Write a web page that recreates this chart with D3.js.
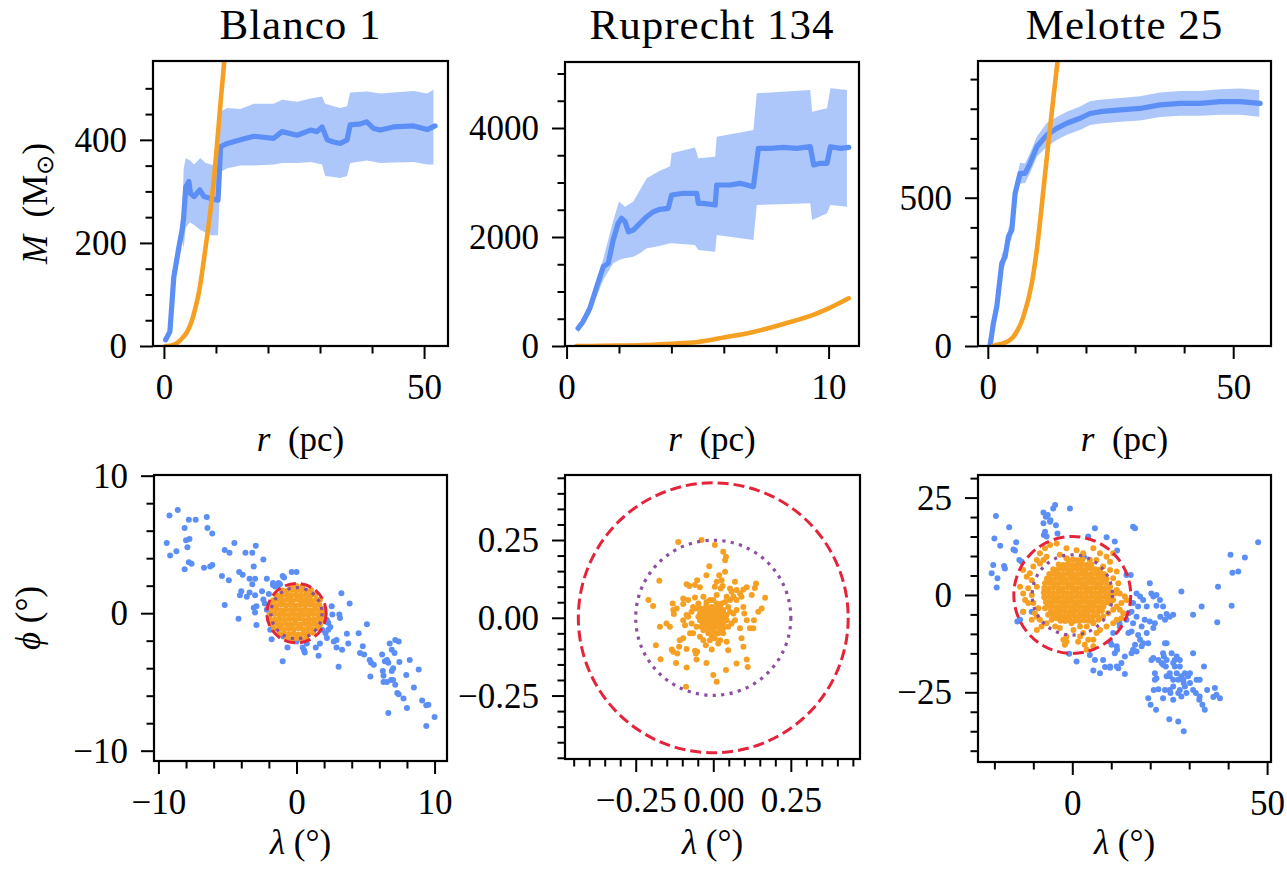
<!DOCTYPE html>
<html>
<head>
<meta charset="utf-8">
<script src="https://cdn.jsdelivr.net/npm/d3@7"></script>
<style>
  body { margin: 0; background: #fff; }
  svg { display: block; }
  text { font-family: "Liberation Serif", "Times New Roman", serif; fill: #000; }
</style>
</head>
<body>
<svg id="fig" width="1287" height="871"></svg>
<script>
// ---------- cluster names ----------
const titles = ["Blanco 1", "Ruprecht 134", "Melotte 25"];

// ---------- enclosed mass profiles M(r) ----------
const blancoR = [0.33,1.15,1.9,2.9,3.5,3.8,4.2,4.8,5.1,5.8,6.9,7.7,9.0,10.4,10.9,12.2,14.7,17.3,21.1,22.7,25.6,28.2,29.4,30.4,31.4,32.6,33.9,35.2,35.8,37.8,39.0,40.3,41.6,44.1,48.0,50.6,52.1];
const blancoM = [12,28,134,193,225,251,309,319,296,290,303,290,286,283,387,393,400,407,403,416,409,419,416,425,400,396,393,400,429,431,435,422,419,425,427,420,427];
const blancoBandR  = [0.33,1.15,1.9,2.9,3.5,3.8,4.2,5.0,5.8,7.0,8.0,9.0,10.4,10.9,12.2,14.7,17.3,21.1,22.7,25.6,28.2,30.4,31.0,32.6,33.9,35.2,35.8,39.0,41.6,44.1,48.0,50.6,51.8];
const blancoBandLo = [8,20,120,180,205,190,230,240,235,225,220,215,215,338,345,350,350,352,355,355,357,352,330,328,326,330,355,360,355,356,357,352,352];
const blancoBandHi = [16,36,148,208,250,345,365,360,352,365,355,352,350,455,462,460,470,470,478,474,480,484,470,465,462,465,492,494,490,492,495,490,497];
const blancoModelR = [0.3,0.6,1.5,2.57,3.5,4.49,5.3,6.08,6.8,7.37,8.33,9.29,10.1,10.9,11.65,12.3];
const blancoModelM = [0,0,1,6,15,28,47,75,108,145,215,293,378,474,560,655];

const ruprechtR = [0.44,0.63,0.89,1.15,1.4,1.59,1.78,1.97,2.1,2.23,2.36,2.55,2.8,3.06,3.31,3.57,3.88,4.01,4.46,4.97,5.03,5.22,5.67,5.73,6.24,6.62,6.88,7.13,7.32,7.77,8.28,8.79,9.3,9.43,9.68,9.94,10.07,10.45,10.77];
const ruprechtM = [325,446,692,1088,1455,1517,1945,2251,2343,2281,2097,2128,2251,2372,2464,2508,2526,2771,2802,2802,2618,2618,2587,2954,2954,2985,2954,2923,3627,3627,3645,3627,3657,3321,3352,3352,3657,3627,3645];
const ruprechtBandR  = [0.44,0.89,1.4,1.78,2.0,2.23,2.55,2.8,3.06,3.5,3.95,4.01,4.9,5.03,5.67,5.73,7.13,7.26,9.3,9.37,9.94,10.07,10.7];
const ruprechtBandLo = [233,600,1211,1517,1580,1609,1639,1700,1792,1830,1884,1884,1853,1761,1730,2037,1945,2587,2618,2312,2434,2587,2556];
const ruprechtBandHi = [380,760,1600,2300,2650,2556,2650,2862,3077,3200,3300,3535,3640,3444,3474,3840,3963,4637,4697,4300,4361,4728,4697];
const ruprechtModelR = [0.38,1,2,3,4,4.46,5,6.1,7,8.28,9.56,10,10.77];
const ruprechtModelM = [0,1,6,18,40,55,75,165,245,405,600,690,875];

const melotteR = [0.47,1.14,1.83,2.85,3.52,4.2,4.89,5.56,6.58,7.6,8.6,10,12,14.05,16.1,18.8,20.8,22.9,27,31,35.1,39.2,43.2,47.3,51.4,55.5];
const melotteM = [3,77,133,279,301,369,391,515,582,582,616,672,711,734,751,768,784,790,796,801,813,818,818,824,824,818];
const melotteBandR  = [0.47,1.14,1.83,2.85,3.52,4.2,4.89,5.56,6.58,7.6,8.6,10,12,14.05,16.1,18.8,20.8,22.9,27,31,35.1,39.2,43.2,47.3,51.4,55.3];
const melotteBandLo = [0,65,118,250,275,340,362,485,548,550,583,638,672,695,712,728,745,750,756,760,772,776,776,780,780,773];
const melotteBandHi = [8,90,150,310,328,398,420,548,618,615,650,706,752,772,790,808,825,830,836,842,855,860,860,866,868,863];
const melotteModelR = [1.0,1.49,3,5.2,7.25,8.96,9.98,11.47,12.55,13.7,14.2,14.6];
const melotteModelM = [0,3,8,31,99,211,324,549,717,886,959,1020];

// ---------- sky positions (lambda, phi) in degrees ----------
const blancoField = [
 [-9.2,7.1],[-8.6,7.5],[-9.4,5.1],[-9.15,4.2],[-8.7,4.5],[-8.1,6.2],[-7.8,6.8],[-7.3,6.8],[-6.5,7.0],[-6.45,6.2],
 [-6.1,5.8],[-8.0,5.3],[-7.75,5.4],[-7.9,4.8],[-8.1,3.2],[-7.8,3.7],[-7.6,3.6],[-6.7,3.3],[-6.25,3.4],[-6.1,3.5],
 [-5.4,2.7],[-5.2,4.6],[-4.85,4.4],[-4.5,5.1],[-4.9,2.4],[-5.2,0.6],[-4.15,3.0],[-3.9,2.8],[-4.2,-0.4],[-4.1,1.3],
 [-4.0,1.6],[-3.7,4.4],[-3.2,4.4],[-2.95,4.9],[-3.1,3.4],[-2.4,3.9],[-3.6,1.2],[-3.4,2.5],[-3.0,2.5],[-3.2,2.1],
 [-3.4,1.5],[-3.0,1.3],[-2.9,0.5],[-3.0,0.05],[-3.1,0.4],[-2.9,-0.85],[-2.5,1.6],[-2.4,1.0],[-2.15,2.5],[-2.0,1.4],
 [-2.3,0.7],[-2.15,0.25],[-1.7,2.2],[-1.4,2.0],[-1.2,2.1],[-1.0,2.7],[-0.9,2.6],[-0.35,3.0],[0.0,3.0],[-1.9,-1.2],
 [-1.8,-1.9],[-1.0,-3.5],[-0.65,-2.5],[0.45,-2.5],[0.55,-2.7],[0.6,-2.85],[0.75,-2.2],[1.4,-2.5],[1.6,-3.1],[1.7,-2.2],
 [2.2,-1.8],[2.3,-1.2],[2.45,-1.0],[2.55,0.5],[2.6,-0.1],[2.2,-0.5],[2.3,-0.7],[2.7,-2.05],[2.9,-1.95],[3.05,-3.9],
 [2.9,-2.5],[3.3,-2.65],[3.25,1.45],[3.85,0.7],[3.1,-0.1],[3.15,-0.35],[3.65,-1.5],[3.75,-2.2],[4.5,-1.45],[4.6,-2.9],
 [4.8,-2.4],[4.9,-3.0],[5.1,-0.8],[5.3,-3.4],[5.4,-3.6],[5.6,-3.75],[5.35,-4.6],[6.2,-3.0],[6.4,-3.5],[6.65,-3.6],
 [6.55,-3.4],[6.75,-2.2],[6.9,-2.65],[7.15,-1.95],[7.4,-2.05],[7.1,-2.9],[7.0,-4.0],[6.9,-4.2],[7.0,-4.85],[7.15,-5.2],
 [6.55,-5.0],[6.25,-4.2],[6.3,-4.55],[6.3,-5.0],[6.85,-4.85],[7.3,-5.8],[7.4,-5.9],[7.75,-6.2],[8.0,-6.9],[6.65,-7.25],
 [7.95,-4.5],[8.2,-3.4],[8.85,-4.1],[8.5,-5.4],[9.1,-6.35],[9.4,-6.7],[9.55,-6.65],[9.4,-8.2],[10.0,-7.55],[7.45,-3.55],
 [-1.3,2.2],[-1.55,1.95],[-1.7,2.05],[2.1,-0.5],[1.9,-0.25],[1.85,-1.2],[2.1,-1.45],[0.0,-2.05],[-0.95,-1.7],[-2.0,-0.25]
];
const blancoMembers = [
 [-0.7,-1.85],[-0.35,-1.9],[0.0,-1.8],[0.35,-1.88],[0.7,-1.82],
 [-1.25,-1.5],[-0.9,-1.45],[-0.55,-1.52],[-0.2,-1.48],[0.15,-1.55],[0.5,-1.47],[0.85,-1.5],[1.2,-1.43],
 [-1.6,-1.15],[-1.25,-1.1],[-0.9,-1.18],[-0.55,-1.12],[-0.2,-1.16],[0.15,-1.1],[0.5,-1.2],[0.85,-1.13],[1.2,-1.17],[1.55,-1.1],
 [-1.8,-0.8],[-1.45,-0.75],[-1.1,-0.83],[-0.75,-0.78],[-0.4,-0.82],[-0.05,-0.77],[0.3,-0.84],[0.65,-0.79],[1.0,-0.81],[1.35,-0.76],[1.7,-0.83],
 [-1.9,-0.45],[-1.55,-0.48],[-1.2,-0.42],[-0.85,-0.47],[-0.5,-0.43],[-0.15,-0.46],[0.2,-0.41],[0.55,-0.49],[0.9,-0.44],[1.25,-0.46],[1.6,-0.42],[1.9,-0.47],
 [-1.95,-0.1],[-1.6,-0.06],[-1.25,-0.12],[-0.9,-0.08],[-0.55,-0.13],[-0.2,-0.07],[0.15,-0.11],[0.5,-0.09],[0.85,-0.12],[1.2,-0.06],[1.55,-0.1],[1.9,-0.08],
 [-1.8,0.25],[-1.45,0.29],[-1.1,0.22],[-0.75,0.27],[-0.4,0.23],[-0.05,0.28],[0.3,0.24],[0.65,0.26],[1.0,0.21],[1.35,0.28],[1.7,0.24],[1.95,0.3],
 [-1.85,0.6],[-1.5,0.57],[-1.15,0.63],[-0.8,0.58],[-0.45,0.62],[-0.1,0.56],[0.25,0.61],[0.6,0.59],[0.95,0.64],[1.3,0.57],[1.65,0.61],
 [-1.7,0.95],[-1.35,0.98],[-1.0,0.92],[-0.65,0.97],[-0.3,0.93],[0.05,0.99],[0.4,0.94],[0.75,0.96],[1.1,0.91],[1.45,0.97],[1.7,1.0],
 [-1.45,1.3],[-1.1,1.26],[-0.75,1.33],[-0.4,1.28],[-0.05,1.32],[0.3,1.27],[0.65,1.31],[1.0,1.29],[1.35,1.34],
 [-1.05,1.65],[-0.7,1.62],[-0.35,1.68],[0.0,1.63],[0.35,1.67],[0.7,1.61],[1.05,1.66],
 [-0.4,1.95],[0.0,1.98],[0.4,1.93]
];

const ruprechtField = [];
const ruprechtMembers = [
 [-0.113,0.244],[-0.038,0.250],[0.005,0.234],[0.032,0.212],[0.041,0.196],[0.038,0.185],[-0.013,0.166],[-0.022,0.137],
 [-0.052,0.121],[-0.043,0.098],[-0.086,0.108],[-0.059,0.105],[-0.077,0.102],[0.019,0.137],[0.027,0.121],[0.038,0.148],
 [0.011,0.116],[0.005,0.100],[0.030,0.102],[0.024,0.094],[0.070,0.116],[0.108,0.098],[0.097,0.091],[0.138,0.110],
 [0.134,0.096],[0.124,0.073],[0.054,0.094],[0.059,0.084],[0.075,0.089],[0.086,0.078],[0.091,0.068],[0.065,0.068],
 [0.075,0.057],[0.054,0.057],[-0.174,0.119],[-0.209,0.057],[-0.194,0.038],[-0.172,-0.029],[-0.185,-0.088],[-0.151,-0.018],
 [-0.140,-0.029],[-0.170,-0.133],[-0.134,-0.102],[-0.129,-0.109],[-0.116,-0.115],[-0.120,-0.145],[-0.086,-0.160],[-0.054,-0.134],
 [-0.052,-0.109],[-0.059,-0.106],[-0.056,-0.115],[-0.086,-0.100],[-0.110,-0.093],[-0.108,-0.072],[-0.097,-0.066],[-0.075,-0.050],
 [-0.065,-0.050],[-0.070,-0.018],[-0.043,0.014],[-0.038,-0.029],[-0.024,-0.088],[-0.022,-0.145],[-0.005,-0.102],[0.000,-0.184],
 [0.011,-0.206],[0.016,-0.083],[0.022,-0.072],[0.032,-0.050],[0.043,-0.077],[0.048,-0.104],[0.041,-0.168],[0.075,-0.147],
 [0.108,-0.134],[0.111,-0.158],[0.097,-0.093],[0.086,-0.034],[0.091,-0.066],[0.118,-0.034],[0.129,-0.034],[0.131,-0.008],
 [0.108,-0.008],[0.156,0.030],[0.145,0.019],[0.167,0.064],[0.097,0.035],[0.100,0.014],[0.075,0.025],[-0.129,0.025],
 [-0.131,0.046],[-0.118,0.030],[-0.127,0.012],[-0.097,0.062],[-0.081,0.057],[-0.097,0.044],[-0.065,0.035],[-0.059,0.065],
 [-0.056,0.030],[-0.048,0.046],[-0.032,0.068],[-0.022,0.051],[-0.011,0.057],[0.000,0.057],[0.011,0.073],[0.043,0.068],
 [0.011,0.046],[0.022,0.035],[0.032,0.025],[0.048,0.035],[0.054,0.019],[0.065,0.014],[-0.070,0.019],[-0.086,0.009],
 [-0.097,-0.008],[-0.091,-0.024],[-0.081,0.003],[-0.054,-0.029],[-0.043,-0.008],[-0.032,0.003],[-0.027,0.030],[-0.016,0.025],
 [-0.005,0.035],[0.000,0.019],[0.005,0.030],[0.016,0.019],[0.027,0.009],[0.038,0.003],[0.043,-0.008],[0.032,-0.018],
 [0.016,-0.013],[0.011,-0.029],[0.000,-0.034],[-0.011,-0.029],[-0.022,-0.024],[-0.032,-0.040],[-0.016,-0.050],[-0.005,-0.056],
 [0.011,-0.050],[0.022,-0.040],[0.032,-0.034],[0.048,-0.029],[0.059,-0.018],[0.070,-0.008],[-0.043,-0.061],[-0.032,-0.072],
 [-0.011,-0.072],[0.005,-0.066],[-0.088,-0.222],
 [-0.032,0.019],[-0.022,0.014],[-0.011,0.009],[0.000,0.003],[0.011,-0.002],[0.022,0.003],[-0.016,-0.002],[-0.005,-0.008],
 [0.005,-0.018],[-0.027,-0.008],[-0.038,0.009],[0.011,0.014],[0.024,0.019],[0.034,0.014],[-0.013,0.019],[-0.002,0.012],
 [0.009,-0.010],[0.019,-0.024],[0.030,-0.005],[-0.024,0.003],[-0.034,-0.018],[-0.016,-0.034],[0.000,-0.018],[0.043,0.009],
 [-0.048,0.003],[-0.041,0.030],[-0.022,0.041],[0.011,0.030],[0.027,0.046],[0.038,0.051],[-0.011,-0.013],[0.000,-0.040],[0.016,-0.050]
];

const melotteField = [
 [-19.6,20.3],[-20.0,14.5],[-18.5,12.6],[-16.2,17.4],[-14.7,11.4],[-14.4,13.5],[-15.1,11.7],[-13.6,9.0],[-13.0,8.5],[-20.7,5.6],
 [-20.3,7.7],[-19.2,4.3],[-19.4,1.9],[-17.5,7.4],[-17.3,6.8],[-14.1,-6.8],[-13.4,-6.4],[-7.4,21.2],[-6.8,20.1],[-6.3,20.5],
 [-5.7,18.8],[-4.9,22.2],[-4.4,23.1],[-4.2,17.9],[-5.6,19.2],[-7.4,18.4],[-7.0,16.2],[-7.3,15.4],[-6.6,15.0],[-3.8,15.8],
 [-0.6,22.2],[5.8,17.1],[4.1,15.0],[8.8,14.8],[10.9,13.7],[11.5,11.4],[15.6,17.5],[16.1,17.1],[3.0,9.8],[13.9,5.1],
 [15.0,5.1],[14.4,-4.7],[15.6,-2.1],[16.5,0.4],[17.4,-0.4],[16.9,-3.0],[18.2,-1.3],[19.1,-3.0],[19.9,3.0],[20.3,0.4],
 [21.6,0.0],[20.8,-0.4],[22.5,-1.3],[21.6,-2.8],[23.3,-3.0],[24.2,-4.9],[22.6,-5.6],[23.8,-6.4],[25.0,-5.6],[25.9,-5.1],
 [28.0,0.9],[31.0,-5.1],[33.2,-3.0],[37.4,2.1],[37.2,-7.0],[40.6,10.3],[41.1,5.7],[42.6,6.0],[44.3,9.6],[40.9,-2.8],
 [47.7,13.5],[13.9,-6.4],[15.6,-7.3],[15.2,-9.4],[16.9,-10.3],[17.8,-8.1],[19.1,-9.8],[20.8,-8.5],[21.2,-7.3],[19.9,-6.8],
 [18.6,-6.4],[16.5,-5.6],[15.2,-4.3],[16.1,-12.8],[17.4,-11.5],[17.8,-13.2],[18.2,-12.4],[19.5,-12.4],[16.5,-14.5],[15.6,-14.1],
 [15.2,-15.0],[14.4,-9.8],[12.1,-7.3],[10.5,-9.8],[10.1,-12.8],[11.4,-13.2],[11.5,-14.1],[10.9,-15.0],[9.7,-12.0],[13.5,-15.8],
 [12.6,-17.5],[9.7,-18.4],[7.9,-16.7],[5.8,-16.7],[5.4,-19.4],[7.1,-20.1],[8.4,-18.5],[9.7,-18.7],[11.4,-18.4],[11.8,-18.8],
 [13.5,-20.3],[1.1,-17.1],[-0.8,-15.1],[4.5,-15.4],[12.2,-8.1],[20.3,-16.7],[20.8,-16.2],[22.1,-16.7],[21.2,-20.1],[21.6,-21.4],
 [23.3,-15.0],[23.8,-12.4],[24.2,-12.4],[23.5,-15.8],[22.9,-17.5],[23.3,-17.9],[24.0,-18.4],[25.5,-15.0],[25.9,-17.5],[26.3,-18.4],
 [26.8,-20.1],[25.9,-21.8],[25.0,-20.9],[26.3,-16.7],[26.8,-15.8],[28.0,-20.9],[28.5,-21.8],[28.9,-23.5],[27.6,-24.4],[27.2,-25.2],
 [28.0,-26.1],[25.9,-26.9],[25.2,-25.2],[25.0,-24.4],[24.2,-20.9],[23.8,-24.4],[23.3,-26.5],[22.1,-24.2],[21.2,-21.8],[20.9,-24.4],
 [19.5,-26.5],[20.1,-28.2],[21.5,-29.5],[24.9,-31.9],[27.2,-32.5],[28.6,-35.0],[29.3,-25.2],[28.9,-20.1],[29.7,-20.9],[30.2,-22.6],
 [31.0,-15.0],[33.8,-18.4],[31.7,-25.2],[32.7,-26.1],[33.4,-28.2],[34.0,-29.5],[32.6,-26.9],[36.2,-26.2],[36.6,-23.9],[37.0,-25.6],
 [37.9,-26.5],[34.6,-24.4],[31.0,-24.4],[25.9,-23.5],[27.2,-21.8],[28.6,-22.6],[27.6,-18.4],[24.2,-16.7],[25.0,-20.1],[27.6,-16.7],
 [30.2,-20.1],[31.9,-21.8],[32.7,-21.8],[-12.6,-4.3],[-10.4,-4.3]
];
const melotteMembers = [
 // outer members
 [-12.6,-4.3],[-11.3,1.7],[-10.4,0.0],[-10.0,-2.1],[-9.1,-5.6],[-8.3,-6.4],[-9.1,-9.0],[-7.9,-8.1],[-6.6,-7.3],[-4.9,-5.1],
 [-4.0,-6.0],[-2.7,-5.6],[-4.4,-8.1],[-3.2,-8.5],[-2.3,-11.5],[-1.9,-12.8],[-1.5,-12.0],[0.3,-9.0],[2.0,-10.7],[2.8,-9.8],
 [4.1,-11.5],[5.4,-11.5],[5.4,-13.2],[6.2,-9.8],[7.1,-9.0],[8.8,-8.1],[10.5,-7.3],[11.4,-6.4],[12.6,-6.0],[13.1,-4.7],
 [12.2,-3.8],[10.5,-1.3],[12.6,-2.1],[13.9,-1.3],[13.5,-0.4],[12.2,0.4],[11.8,3.0],[10.5,4.3],[11.4,6.0],[9.7,8.5],
 [10.5,10.7],[8.8,9.8],[7.1,10.7],[5.4,12.0],[4.5,9.0],[2.8,10.7],[1.1,11.5],[-1.5,12.0],[-4.0,13.2],[-5.7,12.8],
 [-7.0,12.0],[-8.3,10.7],[-9.1,9.0],[-10.0,7.3],[-10.9,5.6],[-12.6,6.4],[-11.7,4.7],[-10.4,3.8],[-9.1,2.1],[-7.4,9.0],
 [-6.6,9.8],[-3.2,10.3],[-1.5,9.4],[6.2,9.0],[7.9,7.3],[9.7,6.4],[-8.3,8.1],[-11.3,-2.1],[-8.7,-3.4],[-7.0,-3.4],
 [-6.2,-5.1],[-5.3,-6.4],[-1.5,-6.4],[-0.2,-7.3],[2.0,-8.1],[3.7,-8.1],[5.4,-7.3],[6.7,-6.4],[7.9,-5.6],[9.2,-4.7],
 [10.5,-3.8],[11.4,-3.0],[9.7,-2.1],[10.9,0.4],[9.7,2.1],[11.4,1.3],[-1.5,-10.7],[1.5,-12.0],[3.2,-12.8],[3.7,-14.1],
 [-12.6,0.4],[-13.4,2.1],[-12.1,-1.3],[-9.6,-4.7],[-10.4,-6.4],
 // dense core
 [-1.0,9.0],[0.2,9.1],[1.4,8.9],[2.6,9.1],
 [-3.5,7.8],[-2.3,7.7],[-1.1,7.9],[0.1,7.7],[1.3,7.8],[2.5,7.9],[3.7,7.7],[4.9,7.8],
 [-4.9,6.6],[-3.7,6.5],[-2.5,6.7],[-1.3,6.6],[-0.1,6.5],[1.1,6.7],[2.3,6.6],[3.5,6.5],[4.7,6.7],[5.9,6.6],[7.1,6.5],
 [-5.9,5.4],[-4.7,5.5],[-3.5,5.3],[-2.3,5.4],[-1.1,5.5],[0.1,5.3],[1.3,5.4],[2.5,5.5],[3.7,5.3],[4.9,5.4],[6.1,5.5],[7.3,5.3],[8.1,5.4],
 [-6.5,4.2],[-5.3,4.1],[-4.1,4.3],[-2.9,4.2],[-1.7,4.1],[-0.5,4.3],[0.7,4.2],[1.9,4.1],[3.1,4.3],[4.3,4.2],[5.5,4.1],[6.7,4.3],[7.9,4.2],[8.8,4.1],
 [-7.0,3.0],[-5.8,3.1],[-4.6,2.9],[-3.4,3.0],[-2.2,3.1],[-1.0,2.9],[0.2,3.0],[1.4,3.1],[2.6,2.9],[3.8,3.0],[5.0,3.1],[6.2,2.9],[7.4,3.0],[8.6,3.1],
 [-7.2,1.8],[-6.0,1.7],[-4.8,1.9],[-3.6,1.8],[-2.4,1.7],[-1.2,1.9],[0.0,1.8],[1.2,1.7],[2.4,1.9],[3.6,1.8],[4.8,1.7],[6.0,1.9],[7.2,1.8],[8.4,1.7],[9.4,1.9],
 [-7.3,0.6],[-6.1,0.7],[-4.9,0.5],[-3.7,0.6],[-2.5,0.7],[-1.3,0.5],[-0.1,0.6],[1.1,0.7],[2.3,0.5],[3.5,0.6],[4.7,0.7],[5.9,0.5],[7.1,0.6],[8.3,0.7],[9.5,0.5],
 [-7.2,-0.6],[-6.0,-0.5],[-4.8,-0.7],[-3.6,-0.6],[-2.4,-0.5],[-1.2,-0.7],[0.0,-0.6],[1.2,-0.5],[2.4,-0.7],[3.6,-0.6],[4.8,-0.5],[6.0,-0.7],[7.2,-0.6],[8.4,-0.5],[9.4,-0.7],
 [-6.8,-1.8],[-5.6,-1.9],[-4.4,-1.7],[-3.2,-1.8],[-2.0,-1.9],[-0.8,-1.7],[0.4,-1.8],[1.6,-1.9],[2.8,-1.7],[4.0,-1.8],[5.2,-1.9],[6.4,-1.7],[7.6,-1.8],[8.8,-1.9],
 [-6.4,-3.0],[-5.2,-2.9],[-4.0,-3.1],[-2.8,-3.0],[-1.6,-2.9],[-0.4,-3.1],[0.8,-3.0],[2.0,-2.9],[3.2,-3.1],[4.4,-3.0],[5.6,-2.9],[6.8,-3.1],[8.0,-3.0],
 [-5.5,-4.2],[-4.3,-4.3],[-3.1,-4.1],[-1.9,-4.2],[-0.7,-4.3],[0.5,-4.1],[1.7,-4.2],[2.9,-4.3],[4.1,-4.1],[5.3,-4.2],[6.5,-4.3],[7.6,-4.1],
 [-4.4,-5.4],[-3.2,-5.3],[-2.0,-5.5],[-0.8,-5.4],[0.4,-5.3],[1.6,-5.5],[2.8,-5.4],[4.0,-5.3],[5.2,-5.5],[6.4,-5.4],
 [-3.0,-6.6],[-1.8,-6.7],[-0.6,-6.5],[0.6,-6.6],[1.8,-6.7],[3.0,-6.5],[4.2,-6.6],[5.2,-6.7]
];

// selection radii (degrees): outer dashed and inner dotted circles
const outerRadius = [2.15, 0.435, 15];
const innerRadius = [1.85, 0.25, 10.3];

// ---------- axis domains and ticks ----------
const massXDomain = [[-2.1, 54.6], [-0.06, 11.16], [-2.0, 57.7]];
const massYDomain = [[0, 553], [0, 5211], [0, 961]];
const massXMajor = [[0, 50], [0, 10], [0, 50]];
const massXMinor = [[10, 20, 30, 40], [2, 4, 6, 8], [10, 20, 30, 40]];
const massYMajor = [[0, 200, 400], [0, 2000, 4000], [0, 500]];
const massYMinor = [[50,100,150,250,300,350,450,500], [500,1000,1500,2500,3000,3500,4500,5000], [100,200,300,400,600,700,800,900]];

const skyXDomain = [[-10.32, 10.9], [-0.478, 0.473], [-24.2, 51.0]];
const skyYDomain = [[-10.75, 10.05], [-0.454, 0.459], [-42.9, 30.8]];
const skyXMajor = [[-10, 0, 10], [-0.25, 0, 0.25], [0, 50]];
const skyXMinor = [[-8,-6,-4,-2,2,4,6,8], [-0.45,-0.4,-0.35,-0.3,-0.2,-0.15,-0.1,-0.05,0.05,0.1,0.15,0.2,0.3,0.35,0.4,0.45], [-20,-10,10,20,30,40]];
const skyYMajor = [[-10, 0, 10], [-0.25, 0, 0.25], [-25, 0, 25]];
const skyYMinor = [[-8,-6,-4,-2,2,4,6,8], [-0.45,-0.4,-0.35,-0.3,-0.2,-0.15,-0.1,-0.05,0.05,0.1,0.15,0.2,0.3,0.35,0.4,0.45], [-40,-35,-30,-20,-15,-10,-5,5,10,15,20,30]];

// ---------- styling ----------
const BLUE = "#5b8ff6", ORANGE = "#f6a023", RED = "#e3243b", PURPLE = "#8d4fa0";
const FONT = 35;
const DOT = 3.0;

const svg = d3.select("#fig");
const defs = svg.append("defs");

const topBoxes = [[153, 448, 61, 346], [565, 859, 62, 346], [978, 1271, 61, 346]];
const botBoxes = [[154, 447, 475, 761], [565, 860, 475, 759], [978, 1271, 475, 762]];

function drawAxes(g, x, y, w, h, xMaj, xMin, yMaj, yMin, fmt) {
  const xMinorAxis = g.append("g").attr("transform", `translate(0,${h})`)
    .call(d3.axisBottom(x).tickValues(xMin).tickSize(7.5).tickFormat(""));
  const xMajorAxis = g.append("g").attr("transform", `translate(0,${h})`)
    .call(d3.axisBottom(x).tickValues(xMaj).tickSize(13).tickPadding(15).tickFormat(fmt));
  const yMinorAxis = g.append("g")
    .call(d3.axisLeft(y).tickValues(yMin).tickSize(7.5).tickFormat(""));
  const yMajorAxis = g.append("g")
    .call(d3.axisLeft(y).tickValues(yMaj).tickSize(13).tickPadding(13).tickFormat(fmt));
  [xMinorAxis, xMajorAxis, yMinorAxis, yMajorAxis].forEach(a => {
    a.attr("font-family", null).attr("font-size", null);
    a.select(".domain").remove();
    a.selectAll(".tick line").attr("stroke", "#000").attr("stroke-width", 2);
    a.selectAll(".tick text").attr("font-size", FONT).attr("fill", "#000");
  });
  yMajorAxis.selectAll(".tick text").attr("dy", "0.33em");
  g.append("rect").attr("width", w).attr("height", h)
    .attr("fill", "none").attr("stroke", "#000").attr("stroke-width", 2.2);
}

function addLabel(parent, x, y, parts, rotate) {
  const t = parent.append("text")
    .attr("transform", `translate(${x},${y})` + (rotate ? " rotate(-90)" : ""))
    .attr("text-anchor", "middle").attr("font-size", FONT)
    .attr("xml:space", "preserve");
  parts.forEach(p => {
    const s = t.append("tspan").text(p.t);
    if (p.i) s.attr("font-style", "italic");
    if (p.sub) s.attr("font-size", 24).attr("baseline-shift", "-6");
  });
  return t;
}

// ---------- top row: enclosed mass ----------
const massData = [
  { r: blancoR, m: blancoM, br: blancoBandR, lo: blancoBandLo, hi: blancoBandHi, mr: blancoModelR, mm: blancoModelM },
  { r: ruprechtR, m: ruprechtM, br: ruprechtBandR, lo: ruprechtBandLo, hi: ruprechtBandHi, mr: ruprechtModelR, mm: ruprechtModelM },
  { r: melotteR, m: melotteM, br: melotteBandR, lo: melotteBandLo, hi: melotteBandHi, mr: melotteModelR, mm: melotteModelM }
];

massData.forEach((d, i) => {
  const [x0, x1, y0, y1] = topBoxes[i];
  const w = x1 - x0, h = y1 - y0;
  const g = svg.append("g").attr("transform", `translate(${x0},${y0})`);
  const x = d3.scaleLinear().domain(massXDomain[i]).range([0, w]);
  const y = d3.scaleLinear().domain(massYDomain[i]).range([h, 0]);

  defs.append("clipPath").attr("id", "clipM" + i)
    .append("rect").attr("width", w).attr("height", h);
  const plot = g.append("g").attr("clip-path", `url(#clipM${i})`);

  const band = d3.area()
    .x((_, k) => x(d.br[k])).y0((_, k) => y(d.lo[k])).y1((_, k) => y(d.hi[k]));
  plot.append("path").datum(d.br).attr("d", band)
    .attr("fill", BLUE).attr("fill-opacity", 0.5);

  const line = d3.line().x((_, k) => x(d.r[k])).y((_, k) => y(d.m[k]));
  plot.append("path").datum(d.r).attr("d", line)
    .attr("fill", "none").attr("stroke", BLUE).attr("stroke-width", 5.2)
    .attr("stroke-linejoin", "round").attr("stroke-linecap", "round");

  const model = d3.line().curve(d3.curveMonotoneX)
    .x((_, k) => x(d.mr[k])).y((_, k) => y(d.mm[k]));
  plot.append("path").datum(d.mr).attr("d", model)
    .attr("fill", "none").attr("stroke", ORANGE).attr("stroke-width", 4.6)
    .attr("stroke-linecap", "round");

  drawAxes(g, x, y, w, h, massXMajor[i], massXMinor[i], massYMajor[i], massYMinor[i], d3.format("d"));

  svg.append("text").attr("x", (x0 + x1) / 2).attr("y", 39)
    .attr("text-anchor", "middle").attr("font-size", 43).attr("letter-spacing", 1)
    .text(titles[i]);

  addLabel(svg, (x0 + x1) / 2, 451, [{ t: "r", i: true }, { t: "  (pc)" }], false);
});

addLabel(svg, 47, (topBoxes[0][2] + topBoxes[0][3]) / 2,
  [{ t: "M", i: true }, { t: "  (M" }, { t: "\u2299", sub: true }, { t: ")" }], true);

// ---------- bottom row: sky positions ----------
const skyData = [
  { field: blancoField, members: blancoMembers },
  { field: ruprechtField, members: ruprechtMembers },
  { field: melotteField, members: melotteMembers }
];

skyData.forEach((d, i) => {
  const [x0, x1, y0, y1] = botBoxes[i];
  const w = x1 - x0, h = y1 - y0;
  const g = svg.append("g").attr("transform", `translate(${x0},${y0})`);
  const x = d3.scaleLinear().domain(skyXDomain[i]).range([0, w]);
  const y = d3.scaleLinear().domain(skyYDomain[i]).range([h, 0]);

  defs.append("clipPath").attr("id", "clipS" + i)
    .append("rect").attr("width", w).attr("height", h);
  const plot = g.append("g").attr("clip-path", `url(#clipS${i})`);

  plot.append("g").selectAll("circle").data(d.field).join("circle")
    .attr("cx", p => x(p[0])).attr("cy", p => y(p[1])).attr("r", DOT).attr("fill", BLUE);
  plot.append("g").selectAll("circle").data(d.members).join("circle")
    .attr("cx", p => x(p[0])).attr("cy", p => y(p[1])).attr("r", DOT).attr("fill", ORANGE);

  plot.append("circle").attr("cx", x(0)).attr("cy", y(0))
    .attr("r", x(innerRadius[i]) - x(0))
    .attr("fill", "none").attr("stroke", PURPLE).attr("stroke-width", 3.2)
    .attr("stroke-dasharray", "3.2,5.3");
  plot.append("circle").attr("cx", x(0)).attr("cy", y(0))
    .attr("r", x(outerRadius[i]) - x(0))
    .attr("fill", "none").attr("stroke", RED).attr("stroke-width", 3)
    .attr("stroke-dasharray", "11,5");

  const fmt = i === 1 ? d3.format(".2f") : d3.format("d");
  drawAxes(g, x, y, w, h, skyXMajor[i], skyXMinor[i], skyYMajor[i], skyYMinor[i], fmt);

  addLabel(svg, (x0 + x1) / 2, 854, [{ t: "\u03bb", i: true }, { t: " (\u00b0)" }], false);
});

addLabel(svg, 40, (botBoxes[0][2] + botBoxes[0][3]) / 2,
  [{ t: "\u03d5", i: true }, { t: " (\u00b0)" }], true);
</script>
</body>
</html>
